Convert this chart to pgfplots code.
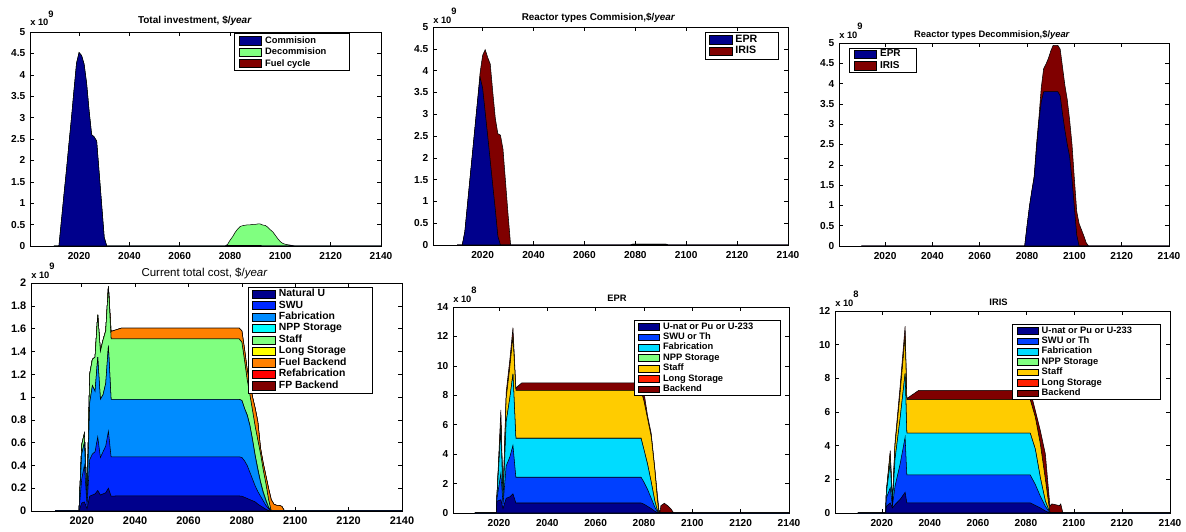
\documentclass[border=0pt]{standalone}
\usepackage{fontspec}
\setmainfont{Liberation Sans}
\usepackage{pgfplots}
\usepackage{pgfplotstable}
\pgfplotsset{compat=1.18}

\definecolor{navy}{RGB}{0,0,140}
\definecolor{dred}{RGB}{128,0,0}
\definecolor{lgreen}{RGB}{128,255,128}
\definecolor{swu}{RGB}{0,40,255}
\definecolor{fab}{RGB}{0,140,255}
\definecolor{npp}{RGB}{0,255,255}
\definecolor{lyel}{RGB}{255,255,0}
\definecolor{orng}{RGB}{255,128,0}
\definecolor{rd}{RGB}{255,0,0}
\definecolor{swub}{RGB}{0,64,255}
\definecolor{fabb}{RGB}{0,220,255}
\definecolor{stfb}{RGB}{255,204,0}
\definecolor{lsb}{RGB}{255,32,0}

% Total investment (1e9 $/year), cumulative: c1 = Commision, c2 = c1 + Decommision
\pgfplotstableread{
year c1 c2
2010 0 0
2012 0 0
2013 0.6 0.6
2014 1.2 1.2
2015 1.78 1.78
2016 2.4 2.4
2017 3.0 3.0
2018 3.65 3.65
2019 4.27 4.27
2020 4.52 4.52
2021 4.45 4.45
2022 4.25 4.25
2023 3.8 3.8
2024 3.15 3.15
2025 2.6 2.6
2026 2.55 2.55
2027 2.45 2.45
2028 1.7 1.7
2029 0.95 0.95
2030 0.2 0.2
2031 0 0
2078 0 0
2079 0.015 0.035
2080 0.015 0.135
2081 0.015 0.215
2082 0.015 0.315
2083 0.015 0.395
2084 0.015 0.455
2085 0.015 0.475
2086 0.015 0.485
2087 0.015 0.495
2088 0.015 0.495
2089 0.015 0.505
2090 0.015 0.505
2091 0.015 0.515
2092 0.015 0.515
2093 0 0.49
2094 0 0.48
2095 0 0.44
2096 0 0.38
2097 0 0.33
2098 0 0.25
2099 0 0.17
2100 0 0.1
2101 0 0.06
2102 0 0.04
2103 0 0.03
2104 0 0.02
2105 0 0.01
2106 0 0
2140 0 0
}\tinv

% Reactor types commision (1e9), e = EPR, t = EPR + IRIS
\pgfplotstableread{
year e t
2010 0 0
2012 0 0
2013 0.3 0.3
2014 0.9 0.9
2015 1.5 1.5
2016 2.1 2.1
2017 2.7 2.7
2018 3.3 3.3
2019 3.85 3.95
2020 3.6 4.35
2021 3.05 4.48
2022 2.5 4.3
2023 1.93 4.15
2024 1.36 3.5
2025 0.8 2.9
2026 0.2 2.55
2027 0 2.52
2028 0 2.2
2029 0 1.45
2030 0 0.7
2031 0 0
2078 0 0
2079 0.02 0.02
2092 0.02 0.02
2093 0 0
2140 0 0
}\tcom

% Reactor types decommision (1e9), e = EPR, t = EPR + IRIS
\pgfplotstableread{
year e t
2010 0 0
2079 0 0
2080 0.5 0.5
2081 0.97 0.97
2082 1.35 1.35
2083 1.68 1.72
2084 2.4 2.5
2085 3.07 3.15
2086 3.55 3.9
2087 3.8 4.37
2088 3.8 4.48
2089 3.8 4.62
2090 3.8 4.8
2091 3.8 4.94
2092 3.8 4.94
2093 3.8 4.94
2094 3.7 4.85
2095 3.25 4.4
2096 2.85 3.95
2097 2.5 3.6
2098 2.2 3.1
2099 1.64 2.5
2100 0.95 1.65
2101 0.27 0.85
2102 0 0.55
2103 0 0.4
2104 0 0.25
2105 0 0.08
2106 0 0
2140 0 0
}\tdec

% Current total cost (1e9), cumulative layers c1..c9
\pgfplotstableread{
year c1 c2 c3 c4 c5 c6 c7 c8 c9
2010 0 0 0 0 0 0 0 0 0
2019 0 0 0 0 0 0 0 0 0
2020 0.07 0.28 0.50 0.50 0.58 0.58 0.58 0.58 0.58
2021 0.08 0.40 0.60 0.60 0.68 0.68 0.68 0.68 0.68
2022 0.02 0.05 0.08 0.08 0.10 0.10 0.10 0.10 0.10
2023 0.13 0.45 0.95 0.95 1.20 1.20 1.20 1.20 1.20
2024 0.14 0.50 1.10 1.10 1.33 1.33 1.33 1.33 1.33
2025 0.15 0.52 1.05 1.05 1.35 1.35 1.35 1.35 1.35
2026 0.18 0.65 1.35 1.35 1.72 1.72 1.72 1.72 1.72
2027 0.14 0.47 0.98 0.98 1.40 1.40 1.40 1.40 1.40
2028 0.15 0.52 1.02 1.02 1.50 1.50 1.50 1.50 1.50
2029 0.16 0.57 1.12 1.12 1.58 1.58 1.58 1.58 1.58
2030 0.20 0.70 1.45 1.45 1.97 1.97 1.97 1.97 1.97
2031 0.13 0.475 0.98 0.98 1.51 1.51 1.575 1.575 1.575
2033 0.132 0.475 0.98 0.98 1.51 1.51 1.59 1.59 1.59
2035 0.132 0.475 0.98 0.98 1.51 1.51 1.605 1.605 1.605
2079 0.132 0.475 0.98 0.98 1.51 1.51 1.605 1.605 1.605
2080 0.13 0.47 0.97 0.97 1.48 1.48 1.58 1.58 1.58
2081 0.12 0.44 0.90 0.90 1.32 1.32 1.42 1.42 1.42
2082 0.11 0.40 0.84 0.845 1.15 1.15 1.24 1.24 1.24
2083 0.10 0.34 0.75 0.755 1.02 1.02 1.12 1.12 1.12
2084 0.09 0.28 0.62 0.63 0.88 0.88 1.00 1.00 1.00
2085 0.08 0.22 0.48 0.49 0.74 0.74 0.90 0.90 0.90
2086 0.06 0.17 0.36 0.37 0.62 0.62 0.78 0.78 0.78
2087 0.045 0.13 0.25 0.26 0.50 0.50 0.55 0.55 0.55
2088 0.03 0.09 0.16 0.17 0.36 0.36 0.42 0.42 0.42
2089 0.015 0.05 0.09 0.10 0.24 0.24 0.31 0.31 0.31
2090 0.005 0.02 0.03 0.035 0.10 0.10 0.20 0.20 0.20
2091 0 0 0 0 0 0 0.10 0.10 0.10
2092 0 0 0 0 0 0 0.06 0.06 0.06
2093 0 0 0 0 0 0 0.05 0.05 0.05
2094 0 0 0 0 0 0 0.05 0.05 0.05
2095 0 0 0 0 0 0 0.04 0.04 0.04
2096 0 0 0 0 0 0 0 0 0
2140 0 0 0 0 0 0 0 0 0
}\tcur

% EPR (1e8), cumulative layers c1..c7
\pgfplotstableread{
year c1 c2 c3 c4 c5 c6 c7
2010 0 0 0 0 0 0 0
2018.9 0 0 0 0 0 0 0
2019.2 0.8 1.0 1.1 1.1 1.2 1.2 1.2
2020.8 0.9 2.7 5.7 5.7 6.2 6.2 7.0
2021.7 0.3 0.6 0.84 0.84 0.9 0.9 0.95
2023.0 1.0 3.2 6.2 6.2 7.8 7.8 8.2
2024.5 1.1 3.8 7.8 7.8 9.9 9.9 10.4
2025.8 1.3 4.6 9.45 9.45 12.0 12.0 12.6
2027.0 0.68 2.43 5.08 5.08 8.33 8.33 8.5
2029.5 0.68 2.43 5.08 5.08 8.33 8.33 8.85
2078.8 0.68 2.43 5.08 5.08 8.33 8.33 8.85
2080.0 0.6 2.1 4.3 4.3 7.6 7.6 8.2
2081.5 0.45 1.6 3.3 3.3 6.4 6.4 6.6
2083.0 0.3 1.0 2.1 2.1 5.2 5.2 5.4
2084.5 0.12 0.4 0.8 0.8 2.9 2.9 3.0
2085.5 0.03 0.1 0.2 0.2 1.0 1.0 1.3
2086.2 0 0 0 0 0 0 0.2
2086.6 0 0 0 0 0 0 0.05
2087.0 0 0 0 0 0 0 0.5
2088.4 0 0 0 0 0 0 0.66
2089.8 0 0 0 0 0 0 0.5
2091.2 0 0 0 0 0 0 0.27
2092.3 0 0 0 0 0 0 0
2140 0 0 0 0 0 0 0
}\tepr

% IRIS (1e8), cumulative layers c1..c7
\pgfplotstableread{
year c1 c2 c3 c4 c5 c6 c7
2010 0 0 0 0 0 0 0
2021.6 0 0 0 0 0 0 0
2021.9 0.4 0.9 1.2 1.2 1.3 1.3 1.3
2023.5 0.6 1.5 3.0 3.0 3.5 3.5 3.7
2024.4 0.3 0.4 0.5 0.5 0.55 0.55 0.6
2025.5 0.5 1.6 3.2 3.2 4.0 4.0 4.2
2027.6 0.8 2.9 5.6 5.6 7.1 7.1 7.5
2029.7 1.23 4.5 8.3 8.3 10.5 10.5 11.1
2030.4 0.6 2.26 4.74 4.74 6.73 6.73 6.8
2035.3 0.6 2.26 4.74 4.74 6.73 6.73 7.28
2081.8 0.6 2.26 4.74 4.74 6.73 6.73 7.28
2083.9 0.45 1.7 3.8 3.8 5.7 5.7 6.1
2086.0 0.3 1.0 2.1 2.1 4.1 4.1 4.9
2088.1 0.12 0.4 0.7 0.7 2.0 2.0 3.5
2090.0 0 0 0 0 0 0 0.4
2090.8 0 0 0 0 0 0 0.54
2094.0 0 0 0 0 0 0 0.44
2094.5 0 0 0 0 0 0 0.54
2095.4 0 0 0 0 0 0 0
2140 0 0 0 0 0 0 0
}\tiris

\pgfplotsset{
  mstyle/.style={
    scale only axis, anchor=south west, clip mode=individual,
    xmin=2000.5, xmax=2140, ymin=0,
    xtick={2020,2040,...,2140},
    tick align=inside, major tick length=3pt,
    axis line style={line width=0.5pt},
    every tick/.style={black, line width=0.4pt},
    ticklabel style={font=\fontsize{7.6}{8}\selectfont\bfseries},
    /pgf/number format/assume math mode=true,
    /pgf/number format/1000 sep={},
    /pgf/number format/fixed,
    scaled y ticks=false,
    xticklabel style={yshift=-1pt},
    every axis title/.style={at={(0.5,1)}, anchor=base, inner sep=0pt,
                 font=\fontsize{7}{8}\selectfont\bfseries},
    legend cell align=left,
    legend style={draw=black, line width=0.5pt, fill=white,
                  inner xsep=3pt, inner ysep=1.5pt, row sep=1pt,
                  nodes={inner xsep=2.5pt, inner ysep=0.5pt, text height=5.2pt, text depth=1.4pt}},
    legend image code/.code={\draw[##1,draw=black,line width=0.4pt] (0pt,-3.1pt) rectangle (17pt,3.1pt);},
  },
  ar/.style={fill=#1, draw=black, line width=0.4pt, forget plot},
  smalleg/.style={
    legend style={nodes={inner ysep=0.3pt, text height=4.8pt, text depth=1.4pt}},
    legend image code/.code={\draw[##1,draw=black,line width=0.4pt] (0pt,-2.5pt) rectangle (16pt,2.5pt);},
  },
}

\newcommand{\expo}[1]{\fontsize{7}{8}\selectfont\bfseries x 10\raisebox{6.5pt}{#1}}

\begin{document}
\begin{tikzpicture}
\path[use as bounding box] (0,0) rectangle (889.5pt,399pt);

% ---------- Total investment ----------
\begin{axis}[mstyle, at={(22.5pt,214.5pt)}, width=263.25pt, height=160.5pt,
  ymax=5, ytick={0,0.5,...,5},
  title={Total investment, \$/\textit{year}},
  title style={yshift=6pt, xshift=-8pt, font=\fontsize{7.5}{8}\selectfont\bfseries},
  legend style={at={(0.912,0.994)}, anchor=north east, font=\fontsize{7}{8}\selectfont\bfseries}]
\addlegendimage{fill=navy}\addlegendentry{Commision}
\addlegendimage{fill=lgreen}\addlegendentry{Decommision\hspace*{12pt}}
\addlegendimage{fill=dred}\addlegendentry{Fuel cycle}
\addplot[ar=lgreen] table[x=year,y=c2] {\tinv} \closedcycle;
\addplot[ar=navy] table[x=year,y=c1] {\tinv} \closedcycle;
\node[anchor=base west, inner sep=0pt] at (rel axis cs:0,1) [yshift=4.7pt] {\expo{9}};
\end{axis}

% ---------- Reactor types Commision ----------
\begin{axis}[mstyle, at={(324.75pt,215.25pt)}, width=266.25pt, height=163.5pt,
  ymax=5, ytick={0,0.5,...,5},
  title={Reactor types Commision,\$/\textit{year}},
  title style={yshift=4.5pt, xshift=-9pt, font=\fontsize{7.4}{8}\selectfont\bfseries},
  legend style={at={(0.973,0.978)}, anchor=north east, inner ysep=2pt, font=\fontsize{8}{9}\selectfont\bfseries}]
\addlegendimage{fill=navy}\addlegendentry{EPR\hspace*{10pt}}
\addlegendimage{fill=dred}\addlegendentry{IRIS}
\addplot[ar=dred] table[x=year,y=t] {\tcom} \closedcycle;
\addplot[ar=navy] table[x=year,y=e] {\tcom} \closedcycle;
\node[anchor=base west, inner sep=0pt] at (rel axis cs:0,1) [yshift=2.8pt] {\expo{9}};
\end{axis}

% ---------- Reactor types Decommision ----------
\begin{axis}[mstyle, at={(629.25pt,214.5pt)}, width=247.5pt, height=152.25pt,
  ymax=5, ytick={0,0.5,...,5},
  title={Reactor types Decommision,\$/\textit{year}}, title style={yshift=4.5pt, xshift=-9pt},
  legend style={at={(0.031,0.977)}, anchor=north west, inner ysep=1pt, font=\fontsize{7.5}{8.5}\selectfont\bfseries}]
\addlegendimage{fill=navy}\addlegendentry{EPR\hspace*{6pt}}
\addlegendimage{fill=dred}\addlegendentry{IRIS}
\addplot[ar=dred] table[x=year,y=t] {\tdec} \closedcycle;
\addplot[ar=navy] table[x=year,y=e] {\tdec} \closedcycle;
\node[anchor=base west, inner sep=0pt] at (rel axis cs:0,1) [yshift=3.3pt] {\expo{9}};
\end{axis}

% ---------- Current total cost ----------
\begin{axis}[mstyle, at={(23.25pt,15.75pt)}, width=278.25pt, height=171pt,
  xmin=2001, ymax=2, ytick={0,0.2,...,2.01},
  ticklabel style={font=\fontsize{8.2}{9}\selectfont\bfseries},
  title={Current total cost, \$/\textit{year}},
  title style={yshift=4.5pt, xshift=-9pt, font=\fontsize{8.6}{9}\selectfont},
  legend style={at={(0.922,0.984)}, anchor=north east, font=\fontsize{7.8}{8.6}\selectfont\bfseries}]
\addlegendimage{fill=navy}\addlegendentry{Natural U}
\addlegendimage{fill=swu}\addlegendentry{SWU}
\addlegendimage{fill=fab}\addlegendentry{Fabrication}
\addlegendimage{fill=npp}\addlegendentry{NPP Storage}
\addlegendimage{fill=lgreen}\addlegendentry{Staff}
\addlegendimage{fill=lyel}\addlegendentry{Long Storage}
\addlegendimage{fill=orng}\addlegendentry{Fuel Backend}
\addlegendimage{fill=rd}\addlegendentry{Refabrication\hspace*{15pt}}
\addlegendimage{fill=dred}\addlegendentry{FP Backend}
\addplot[ar=dred] table[x=year,y=c9] {\tcur} \closedcycle;
\addplot[ar=rd] table[x=year,y=c8] {\tcur} \closedcycle;
\addplot[ar=orng] table[x=year,y=c7] {\tcur} \closedcycle;
\addplot[ar=lyel] table[x=year,y=c6] {\tcur} \closedcycle;
\addplot[ar=lgreen] table[x=year,y=c5] {\tcur} \closedcycle;
\addplot[ar=npp] table[x=year,y=c4] {\tcur} \closedcycle;
\addplot[ar=fab] table[x=year,y=c3] {\tcur} \closedcycle;
\addplot[ar=swu] table[x=year,y=c2] {\tcur} \closedcycle;
\addplot[ar=navy] table[x=year,y=c1] {\tcur} \closedcycle;
\node[anchor=base west, inner sep=0pt] at (rel axis cs:0,1) [yshift=3.3pt] {\expo{9}};
\end{axis}

% ---------- EPR ----------
\begin{axis}[mstyle, smalleg, at={(339.75pt,14.25pt)}, width=252pt, height=154.5pt,
  xmin=2001, ymax=14, ytick={0,2,...,14},
  title={EPR}, title style={yshift=4.3pt, xshift=-3pt},
  legend style={at={(0.976,0.937)}, anchor=north east, font=\fontsize{7}{8}\selectfont\bfseries}]
\addlegendimage{fill=navy}\addlegendentry{U-nat or Pu or U-233\hspace*{15pt}}
\addlegendimage{fill=swub}\addlegendentry{SWU or Th}
\addlegendimage{fill=fabb}\addlegendentry{Fabrication}
\addlegendimage{fill=lgreen}\addlegendentry{NPP Storage}
\addlegendimage{fill=stfb}\addlegendentry{Staff}
\addlegendimage{fill=lsb}\addlegendentry{Long Storage}
\addlegendimage{fill=dred}\addlegendentry{Backend}
\addplot[ar=dred] table[x=year,y=c7] {\tepr} \closedcycle;
\addplot[ar=lsb] table[x=year,y=c6] {\tepr} \closedcycle;
\addplot[ar=stfb] table[x=year,y=c5] {\tepr} \closedcycle;
\addplot[ar=lgreen] table[x=year,y=c4] {\tepr} \closedcycle;
\addplot[ar=fabb] table[x=year,y=c3] {\tepr} \closedcycle;
\addplot[ar=swub] table[x=year,y=c2] {\tepr} \closedcycle;
\addplot[ar=navy] table[x=year,y=c1] {\tepr} \closedcycle;
\node[anchor=base west, inner sep=0pt] at (rel axis cs:0,1) [yshift=3.75pt] {\expo{8}};
\end{axis}

% ---------- IRIS ----------
\begin{axis}[mstyle, smalleg, at={(626.25pt,14.25pt)}, width=251.25pt, height=151.5pt,
  ymax=12, ytick={0,2,...,12},
  title={IRIS}, title style={yshift=3.8pt, xshift=-3pt},
  legend style={at={(0.973,0.936)}, anchor=north east, font=\fontsize{7}{8}\selectfont\bfseries}]
\addlegendimage{fill=navy}\addlegendentry{U-nat or Pu or U-233\hspace*{16pt}}
\addlegendimage{fill=swub}\addlegendentry{SWU or Th}
\addlegendimage{fill=fabb}\addlegendentry{Fabrication}
\addlegendimage{fill=lgreen}\addlegendentry{NPP Storage}
\addlegendimage{fill=stfb}\addlegendentry{Staff}
\addlegendimage{fill=lsb}\addlegendentry{Long Storage}
\addlegendimage{fill=dred}\addlegendentry{Backend}
\addplot[ar=dred] table[x=year,y=c7] {\tiris} \closedcycle;
\addplot[ar=lsb] table[x=year,y=c6] {\tiris} \closedcycle;
\addplot[ar=stfb] table[x=year,y=c5] {\tiris} \closedcycle;
\addplot[ar=lgreen] table[x=year,y=c4] {\tiris} \closedcycle;
\addplot[ar=fabb] table[x=year,y=c3] {\tiris} \closedcycle;
\addplot[ar=swub] table[x=year,y=c2] {\tiris} \closedcycle;
\addplot[ar=navy] table[x=year,y=c1] {\tiris} \closedcycle;
\node[anchor=base west, inner sep=0pt] at (rel axis cs:0,1) [yshift=3.3pt] {\expo{8}};
\end{axis}
\end{tikzpicture}
\end{document}
